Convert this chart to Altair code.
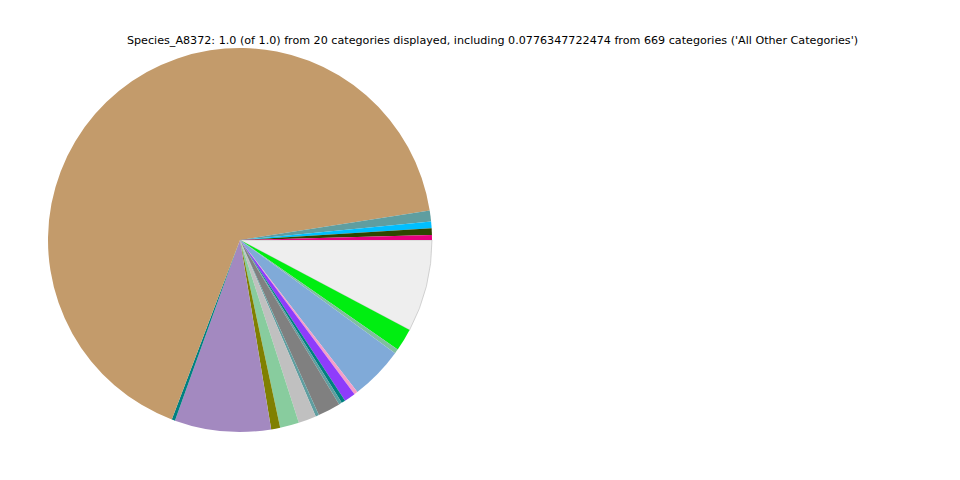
import math
import altair as alt
import pandas as pd

categories = [
    "All Other Categories", "Cat_02", "Cat_03", "Cat_04", "Cat_05", "Cat_06", "Cat_07",
    "Cat_08", "Cat_09", "Cat_10", "Cat_11", "Cat_12", "Cat_13", "Cat_14", "Cat_15",
    "Cat_16", "Cat_17", "Cat_18", "Cat_19", "Cat_20",
]
values = [
    0.0776347722474, 0.019, 0.0037, 0.045, 0.003, 0.0095, 0.0033, 0.0025, 0.019, 0.0028,
    0.015, 0.016, 0.0076, 0.081, 0.0028, 0.6676, 0.0092, 0.0056, 0.0056, 0.0042,
]
colors = [
    "#eeeeee", "#00ee11", "#7fbf9f", "#80aad8", "#f5a0c8", "#8f3cfb", "#008080",
    "#5f9ea0", "#808080", "#5f9ea0", "#c0c0c0", "#88cc9e", "#808000", "#a389c0",
    "#008080", "#c39b6b", "#5f9ea0", "#00bfff", "#2e4600", "#e6007e",
]
title_text = ("Species_A8372: 1.0 (of 1.0) from 20 categories displayed, including "
              "0.0776347722474 from 669 categories ('All Other Categories')")

df = pd.DataFrame({"category": categories, "value": values, "idx": list(range(len(values)))})

pie = alt.Chart(df).mark_arc(outerRadius=192).encode(
    theta=alt.Theta("value:Q", stack=True,
                    scale=alt.Scale(range=[math.pi / 2, math.pi / 2 + 2 * math.pi])),
    color=alt.Color("category:N", scale=alt.Scale(domain=categories, range=colors), legend=None),
    order=alt.Order("idx:Q"),
    x=alt.value(232),
    y=alt.value(232),
    stroke=alt.value("#bbbbbb"),
    strokeWidth=alt.condition(alt.datum.category == "All Other Categories",
                              alt.value(0.6), alt.value(0)),
)

title = alt.Chart(pd.DataFrame({"t": [title_text]})).mark_text(
    font="DejaVu Sans", fontSize=11.15, color="black", align="center", baseline="middle"
).encode(text="t:N", x=alt.value(484.5), y=alt.value(32.5))

chart = alt.layer(pie, title).properties(
    width=944, height=464, padding=0, autosize=alt.AutoSizeParams(type="none")
).configure_view(stroke=None)

chart.save("out.html", embed_options={"renderer": "svg", "actions": False})
